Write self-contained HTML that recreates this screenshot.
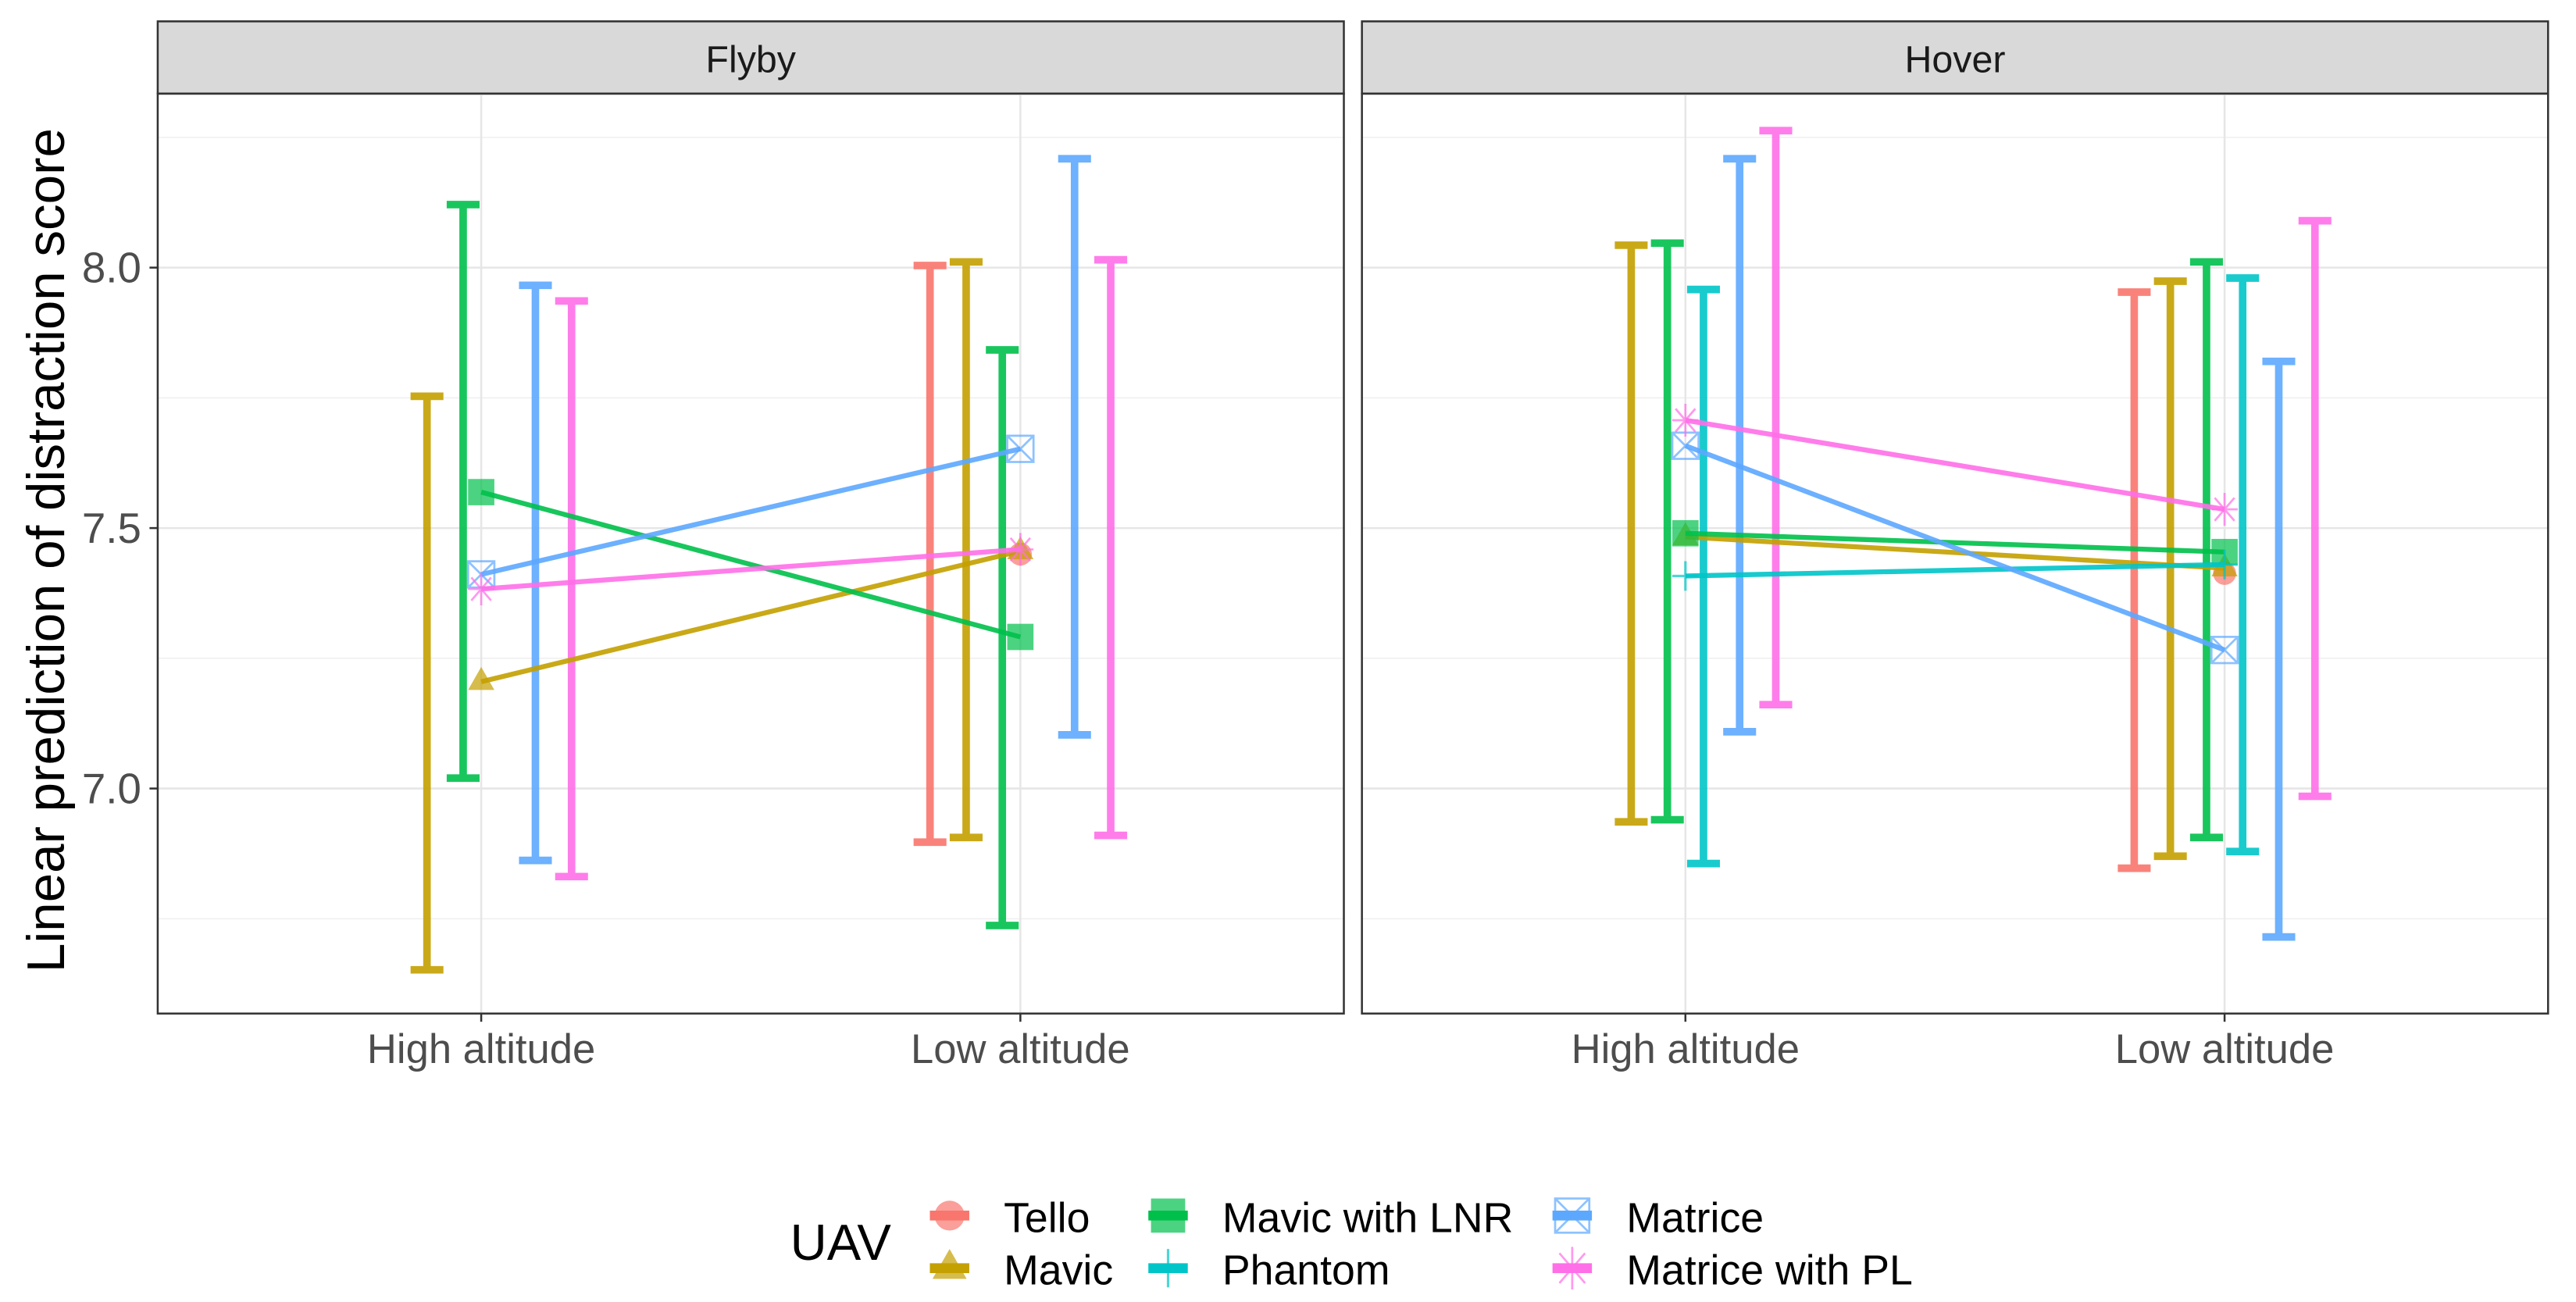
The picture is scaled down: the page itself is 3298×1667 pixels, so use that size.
<!DOCTYPE html>
<html><head><meta charset="utf-8"><style>
html,body{margin:0;padding:0;background:#fff;}
svg{display:block;font-family:"Liberation Sans",Arial,sans-serif;}
</style></head><body>
<svg id="chart" width="3298" height="1667" viewBox="0 0 1568 792.6" preserveAspectRatio="none" xmlns="http://www.w3.org/2000/svg"></svg>
<script>
const uavNames = ["Tello","Mavic","Mavic with LNR","Phantom","Matrice","Matrice with PL"];
const uavColors = ["#F8766D","#C4A000","#00C04B","#00C5C8","#5DA8FF","#FF6FE8"];
const facets = ["Flyby","Hover"];
const altitudes = ["High altitude","Low altitude"];
const yTicks = [7.0,7.5,8.0];
const yTickLabels = ["7.0","7.5","8.0"];
// values [facet][uav][altitude] ; null = absent
const estimates = [
 [[null,7.450],[7.205,7.456],[7.569,7.291],[null,null],[7.411,7.652],[7.383,7.459]],
 [[null,7.413],[7.483,7.423],[7.490,7.454],[7.408,7.430],[7.658,7.266],[7.707,7.536]]
];
const lower = [
 [[null,6.897],[6.652,6.906],[7.020,6.737],[null,null],[6.862,7.103],[6.831,6.910]],
 [[null,6.847],[6.936,6.870],[6.940,6.906],[6.856,6.879],[7.109,6.715],[7.161,6.985]]
];
const upper = [
 [[null,8.004],[7.753,8.011],[8.121,7.842],[null,null],[7.966,8.209],[7.936,8.015]],
 [[null,7.953],[8.043,7.974],[8.047,8.011],[7.958,7.980],[8.209,7.820],[8.263,8.090]]
];

const NS="http://www.w3.org/2000/svg";
const svg=document.getElementById('chart');
function mk(tag,attrs,parent){const e=document.createElementNS(NS,tag);for(const k in attrs)e.setAttribute(k,attrs[k]);(parent||svg).appendChild(e);return e;}
const panelTop=57, panelBot=617;
const panelLefts=[96,829], panelW=722;
const yMin=6.568, yMax=8.334;
function yScale(v){return panelBot-(v-yMin)/(yMax-yMin)*(panelBot-panelTop);}
function xScale(p,i){return panelLefts[p]+(0.6+i)/2.2*panelW;}
const dodge=[-55,-33,-11,11,33,55];

function drawMarker(k,x,y,parent,s){
  s=s||1;
  const c=uavColors[k], g=mk('g',{opacity:0.7},parent);
  if(k==0) mk('circle',{cx:x,cy:y,r:7*s,fill:c},g);
  else if(k==1) mk('polygon',{points:`${x},${y-9*s} ${x+8*s},${y+5*s} ${x-8*s},${y+5*s}`,fill:c},g);
  else if(k==2) mk('rect',{x:x-8*s,y:y-8*s,width:16*s,height:16*s,fill:c},g);
  else if(k==3) mk('path',{d:`M${x-8*s},${y}H${x+8*s}M${x},${y-9*s}V${y+9*s}`,stroke:c,'stroke-width':1.5},g);
  else if(k==4) mk('path',{d:`M${x-8*s},${y-8*s}h${16*s}v${16*s}h${-16*s}zM${x-8*s},${y-8*s}L${x+8*s},${y+8*s}M${x+8*s},${y-8*s}L${x-8*s},${y+8*s}`,stroke:c,'stroke-width':1.3,fill:'none'},g);
  else mk('path',{d:`M${x-8*s},${y}H${x+8*s}M${x},${y-10*s}V${y+10*s}M${x-6*s},${y-7*s}L${x+6*s},${y+7*s}M${x+6*s},${y-7*s}L${x-6*s},${y+7*s}`,stroke:c,'stroke-width':1.3},g);
  return g;
}

facets.forEach((f,p)=>{
  const g=mk('g',{});
  
  
  const L=panelLefts[p];
  mk('rect',{x:L,y:13,width:panelW,height:44,fill:'#D9D9D9',stroke:'#333','stroke-width':1.2},g);
  const st=mk('text',{x:L+panelW/2,y:44,'text-anchor':'middle','font-size':23,fill:'#1A1A1A'},g);
  st.textContent=f;
  
  
  [6.75,7.25,7.75,8.25].forEach(v=>mk('line',{x1:L,x2:L+panelW,y1:yScale(v),y2:yScale(v),stroke:'#F0F0F0','stroke-width':0.8},g));
  yTicks.forEach(v=>mk('line',{x1:L,x2:L+panelW,y1:yScale(v),y2:yScale(v),stroke:'#E6E6E6','stroke-width':1.2},g));
  altitudes.forEach((a,i)=>{
    mk('line',{x1:xScale(p,i),x2:xScale(p,i),y1:panelTop,y2:panelBot,stroke:'#E6E6E6','stroke-width':1.2},g);
    mk('line',{x1:xScale(p,i),x2:xScale(p,i),y1:panelBot,y2:panelBot+5,stroke:'#333','stroke-width':1.2},g);
    const t=mk('text',{x:xScale(p,i),y:647,'text-anchor':'middle','font-size':25,fill:'#4D4D4D'},g);
    t.textContent=a;
    
    
  });
  uavNames.forEach((u,k)=>{
    altitudes.forEach((a,i)=>{
      if(lower[p][k][i]==null)return;
      const x=xScale(p,i)+dodge[k], y1=yScale(upper[p][k][i]), y2=yScale(lower[p][k][i]);
      const eb=mk('path',{d:`M${x-10},${y1}H${x+10}M${x},${y1}V${y2}M${x-10},${y2}H${x+10}`,stroke:uavColors[k],'stroke-width':4.6,fill:'none',opacity:0.9},g);
      
      
    });
  });
  uavNames.forEach((u,k)=>{
    const e=estimates[p][k];
    if(e[0]!=null&&e[1]!=null){
      const ln=mk('line',{x1:xScale(p,0),y1:yScale(e[0]),x2:xScale(p,1),y2:yScale(e[1]),stroke:uavColors[k],'stroke-width':3,opacity:0.9},g);
      
      
    }
    e.forEach((v,i)=>{
      if(v==null)return;
      const pt=drawMarker(k,xScale(p,i),yScale(v),g);
      
      
    });
  });
  mk('rect',{x:L,y:panelTop,width:panelW,height:panelBot-panelTop,fill:'none',stroke:'#333','stroke-width':1.2},g);
});
yTicks.forEach((v,i)=>{
  mk('line',{x1:91,x2:96,y1:yScale(v),y2:yScale(v),stroke:'#333','stroke-width':1.2});
  const t=mk('text',{x:86,y:yScale(v)+9,'text-anchor':'end','font-size':26,fill:'#4D4D4D'});
  t.textContent=yTickLabels[i];
  
  
});
const yt=mk('text',{x:0,y:0,transform:'translate(39,335) rotate(-90)','text-anchor':'middle','font-size':32,fill:'#000'});
yt.textContent='Linear prediction of distraction score';


const lg=mk('g',{});


const lt=mk('text',{x:481,y:767,'font-size':31,fill:'#000'},lg);
lt.textContent='UAV';


const legPos=[[578,740],[578,772],[711,740],[711,772],[957,740],[957,772]];
uavNames.forEach((u,k)=>{
  const [x,y]=legPos[k];
  const e=mk('g',{},lg);
  
  
  mk('line',{x1:x-12,x2:x+12,y1:y,y2:y,stroke:uavColors[k],'stroke-width':6},e);
  drawMarker(k,x,y,e,1.3);
  const t=mk('text',{x:x+33,y:y+10,'font-size':25.5,fill:'#000'},e);
  t.textContent=u;
});
</script>
</body></html>
